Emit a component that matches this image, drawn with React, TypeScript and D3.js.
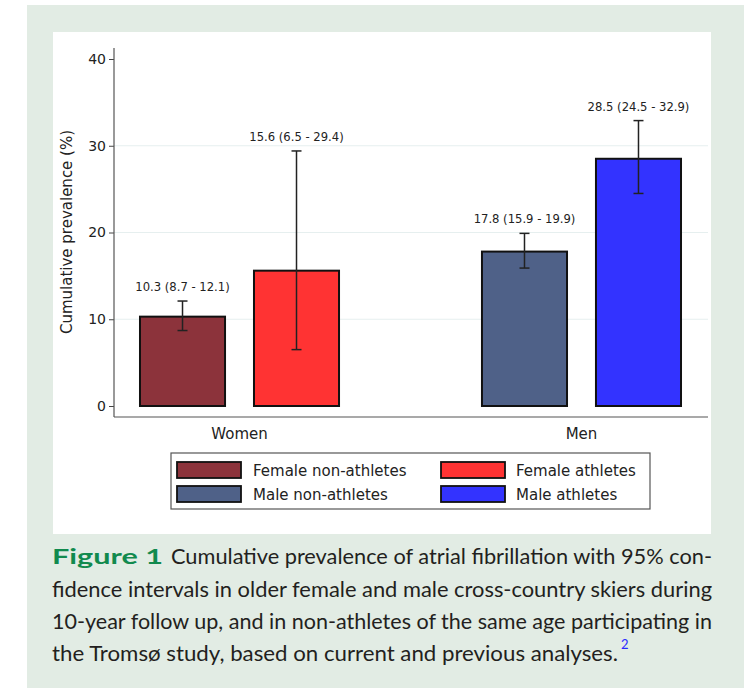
import React, { useEffect, useRef } from 'react';
import * as d3 from 'd3';

const groups = ['Women', 'Men'];
const seriesNames = ['Female non-athletes', 'Female athletes', 'Male non-athletes', 'Male athletes'];
const seriesGroup = ['Women', 'Women', 'Men', 'Men'];
const seriesSlot = ['0', '1', '0', '1'];
const prevalence = [10.3, 15.6, 17.8, 28.5];
const ciLow = [8.7, 6.5, 15.9, 24.5];
const ciHigh = [12.1, 29.4, 19.9, 32.9];
const yTicks = [0, 10, 20, 30, 40];
const colors = ['#8c333b', '#ff3333', '#4f6188', '#3333ff'];

const W = 744;
const H = 688;
const FONT = '"DejaVu Sans", sans-serif';
const CAPTION_FONT = 'Lato, "Open Sans", sans-serif';

const draw = (el: SVGSVGElement) => {
	const svg = d3.select(el);
	svg.selectAll('*').remove();

	// page panels
	svg.append('rect').attr('x', 27).attr('y', 5).attr('width', W - 27).attr('height', H - 5).attr('fill', '#e2ece4');
	svg.append('rect').attr('x', 53).attr('y', 32).attr('width', 658).attr('height', 502).attr('fill', '#ffffff');

	const left = 114;
	const right = 708;
	const axisY = 417;
	const y = d3.scaleLinear().domain([0, 40]).range([406, 59]);
	const x0 = d3.scaleBand().domain(groups).range([left, right - 1]).paddingInner(0.418).paddingOuter(0.076);
	const x1 = d3.scaleBand().domain(['0', '1']).range([0, x0.bandwidth()]).paddingInner(0.254);

	const g = svg.append('g');

	// gridlines
	g.selectAll('line.grid').data(yTicks.filter((t) => t > 0 && t < 40))
		.enter()
		.append('line')
		.attr('class', 'grid')
		.attr('x1', left).attr('x2', right)
		.attr('y1', (d) => y(d)).attr('y2', (d) => y(d))
		.attr('stroke', '#e6efef').attr('stroke-width', 1.2);

	// y axis
	const ya = g.append('g').attr('transform', `translate(${ left },0)`)
		.call(d3.axisLeft(y).tickValues(yTicks).tickSize(5).tickPadding(3).tickFormat(d3.format('d')));
	ya.select('.domain').remove();
	ya.selectAll('line').attr('stroke', '#444');
	ya.selectAll('text').attr('font-family', FONT).attr('font-size', 14).attr('fill', '#222');
	g.append('line').attr('x1', left).attr('x2', left).attr('y1', 48).attr('y2', axisY)
		.attr('stroke', '#555').attr('stroke-width', 1.2);
	g.append('line').attr('x1', left).attr('x2', right).attr('y1', axisY).attr('y2', axisY)
		.attr('stroke', '#555').attr('stroke-width', 1.2);

	// x labels
	g.selectAll('text.xl').data(groups)
		.enter()
		.append('text')
		.attr('class', 'xl')
		.attr('x', (d) => (x0(d) as number) + x0.bandwidth() / 2)
		.attr('y', 439)
		.attr('text-anchor', 'middle')
		.attr('font-family', FONT).attr('font-size', 15).attr('fill', '#222')
		.text((d) => d);

	// y title
	g.append('text')
		.attr('transform', 'translate(72,232) rotate(-90)')
		.attr('text-anchor', 'middle')
		.attr('font-family', FONT).attr('font-size', 15).attr('fill', '#222')
		.text('Cumulative prevalence (%)');

	const idx = d3.range(seriesNames.length);
	const bx = (i: number) => (x0(seriesGroup[i]) as number) + (x1(seriesSlot[i]) as number);
	const bw = x1.bandwidth();

	// bars
	g.selectAll('rect.bar').data(idx)
		.enter()
		.append('rect')
		.attr('class', 'bar')
		.attr('x', (i) => bx(i))
		.attr('y', (i) => y(prevalence[i]))
		.attr('width', bw)
		.attr('height', (i) => y(0) - y(prevalence[i]))
		.attr('fill', (i) => colors[i])
		.attr('stroke', '#111').attr('stroke-width', 2);

	// error bars
	const eb = g.selectAll('g.eb').data(idx).enter()
		.append('g')
		.attr('stroke', '#222').attr('stroke-width', 1.5);
	eb.append('line')
		.attr('x1', (i) => bx(i) + bw / 2).attr('x2', (i) => bx(i) + bw / 2)
		.attr('y1', (i) => y(ciLow[i])).attr('y2', (i) => y(ciHigh[i]));
	eb.append('line')
		.attr('x1', (i) => bx(i) + bw / 2 - 5).attr('x2', (i) => bx(i) + bw / 2 + 5)
		.attr('y1', (i) => y(ciLow[i])).attr('y2', (i) => y(ciLow[i]));
	eb.append('line')
		.attr('x1', (i) => bx(i) + bw / 2 - 5).attr('x2', (i) => bx(i) + bw / 2 + 5)
		.attr('y1', (i) => y(ciHigh[i])).attr('y2', (i) => y(ciHigh[i]));

	// value labels
	g.selectAll('text.vl').data(idx)
		.enter()
		.append('text')
		.attr('class', 'vl')
		.attr('x', (i) => bx(i) + bw / 2)
		.attr('y', (i) => y(ciHigh[i]) - 10)
		.attr('text-anchor', 'middle')
		.attr('font-family', FONT).attr('font-size', 11.6).attr('fill', '#222')
		.text((i) => `${ prevalence[i].toFixed(1) } (${ ciLow[i].toFixed(1) } - ${ ciHigh[i].toFixed(1) })`);

	// legend
	const lg = g.append('g');
	lg.append('rect').attr('x', 171).attr('y', 453).attr('width', 479).attr('height', 56)
		.attr('fill', '#fff').attr('stroke', '#555').attr('stroke-width', 1.2);
	const lx = [177, 441];
	const tx = [253, 516];
	const ly = [462, 486];
	const item = lg.selectAll('g.li').data(idx).enter()
		.append('g');
	item.append('rect')
		.attr('x', (i) => lx[i % 2]).attr('y', (i) => ly[Math.floor(i / 2)])
		.attr('width', 64).attr('height', 16)
		.attr('fill', (i) => colors[i]).attr('stroke', '#111').attr('stroke-width', 1.8);
	item.append('text')
		.attr('x', (i) => tx[i % 2]).attr('y', (i) => ly[Math.floor(i / 2)] + 14)
		.attr('font-family', FONT).attr('font-size', 15).attr('fill', '#222')
		.text((i) => seriesNames[i]);

	// caption
	const cap = svg.append('g').attr('font-family', CAPTION_FONT).attr('font-size', 21).attr('fill', '#231f20');
	cap.append('text').attr('x', 52).attr('y', 564)
		.attr('font-weight', 'bold').attr('fill', '#118a4e')
		.attr('textLength', 111).attr('lengthAdjust', 'spacingAndGlyphs')
		.text('Figure 1');
	cap.append('text').attr('x', 171).attr('y', 564)
		.attr('textLength', 541).attr('lengthAdjust', 'spacingAndGlyphs')
		.text('Cumulative prevalence of atrial fibrillation with 95% con-');
	cap.append('text').attr('x', 52).attr('y', 597)
		.attr('textLength', 660).attr('lengthAdjust', 'spacingAndGlyphs')
		.text('fidence intervals in older female and male cross-country skiers during');
	cap.append('text').attr('x', 52).attr('y', 629)
		.attr('textLength', 660).attr('lengthAdjust', 'spacingAndGlyphs')
		.text('10-year follow up, and in non-athletes of the same age participating in');
	cap.append('text').attr('x', 52).attr('y', 661)
		.attr('textLength', 566).attr('lengthAdjust', 'spacingAndGlyphs')
		.text('the Tromsø study, based on current and previous analyses.');
	cap.append('text').attr('x', 621).attr('y', 649)
		.attr('font-size', 13).attr('fill', '#2a2aff')
		.text('2');
};

const App = () => {
	const ref = useRef<SVGSVGElement>(null);

	useEffect(() => {
		if (ref.current) draw(ref.current);
	});

	return (
		<svg ref={ ref } width={ W } height={ H }
			style={ { position: 'absolute', left: 0, top: 0, background: '#fff' } }/>
	);
};

export default App;
